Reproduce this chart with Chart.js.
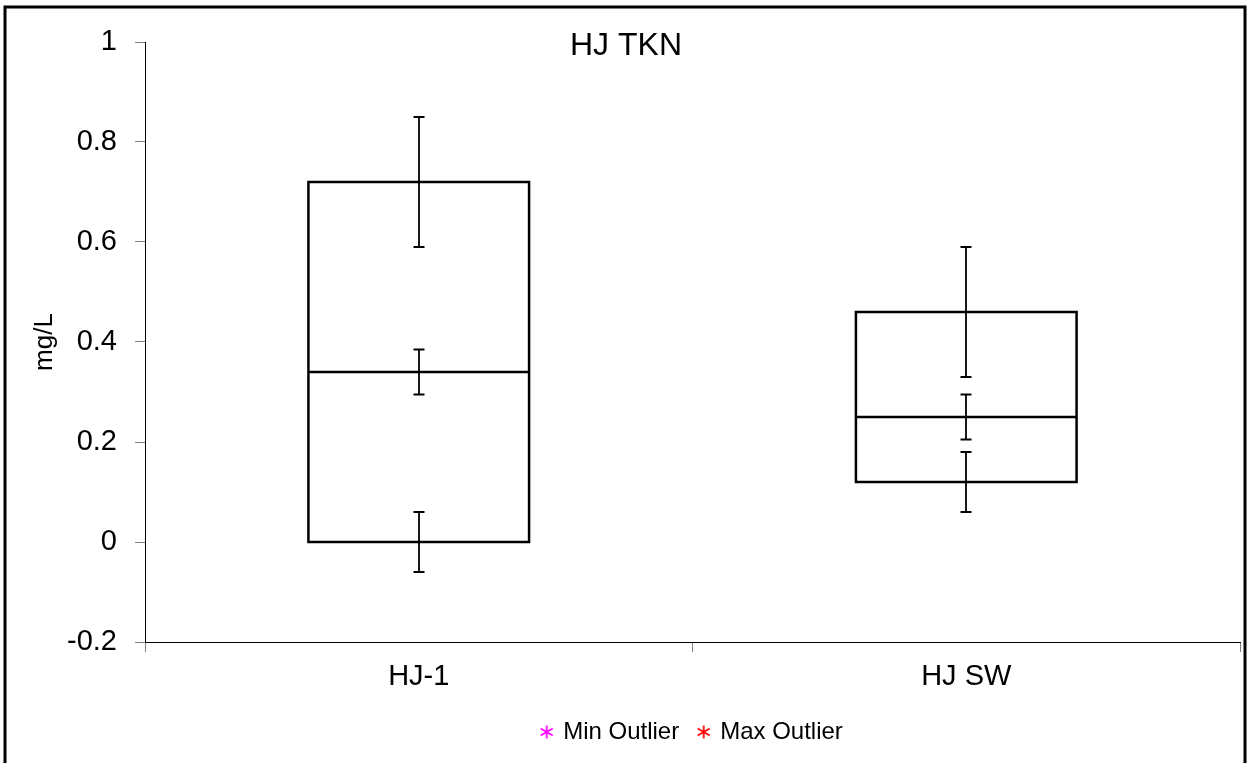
<!DOCTYPE html>
<html>
<head>
<meta charset="utf-8">
<script src="https://cdn.jsdelivr.net/npm/chart.js@4/dist/chart.umd.min.js"></script>
<style>
  html, body { margin: 0; padding: 0; background: #fff; }
  #wrap { width: 1249px; height: 763px; }
</style>
</head>
<body>
<div id="wrap"><canvas id="chart" width="1249" height="763"></canvas></div>
<script>
// Box plot of TKN by site: quartile box, median line and error bars at each quartile
const categories = ['HJ-1', 'HJ SW'];
const q1 = [0, 0.12];
const median = [0.34, 0.25];
const q3 = [0.72, 0.46];
const q1Low = [-0.06, 0.06];
const q1High = [0.06, 0.18];
const medianLow = [0.295, 0.205];
const medianHigh = [0.385, 0.295];
const q3Low = [0.59, 0.33];
const q3High = [0.85, 0.59];
const yTicks = [-0.2, 0, 0.2, 0.4, 0.6, 0.8, 1];
const titleText = 'HJ TKN';
const yTitle = 'mg/L';
const outlierLabels = ['Min Outlier', 'Max Outlier'];
const outlierColors = ['#ff00ff', '#ff0000'];

const FONT = "'Liberation Sans', Arial, sans-serif";

function asteriskMarker(color) {
  const c = document.createElement('canvas');
  c.width = 14; c.height = 14;
  const g = c.getContext('2d');
  g.strokeStyle = color;
  g.lineWidth = 1.7;
  g.beginPath();
  g.moveTo(7, 0.5); g.lineTo(7, 13.5);
  g.moveTo(1, 3.5); g.lineTo(13, 10.5);
  g.moveTo(13, 3.5); g.lineTo(1, 10.5);
  g.stroke();
  return c;
}

const frameAndTitle = {
  id: 'frameAndTitle',
  beforeDraw(chart) {
    const ctx = chart.ctx;
    ctx.save();
    ctx.fillStyle = '#fff';
    ctx.fillRect(0, 0, chart.width, chart.height);
    ctx.restore();
  },
  afterDraw(chart) {
    const ctx = chart.ctx;
    ctx.save();
    ctx.strokeStyle = '#000';
    ctx.lineWidth = 3;
    ctx.strokeRect(5, 7, 1240, 800);
    ctx.fillStyle = '#000';
    ctx.font = '32px ' + FONT;
    ctx.textAlign = 'center';
    ctx.textBaseline = 'middle';
    ctx.fillText(titleText, 626, 46);
    ctx.restore();
  }
};

// Box outline, median line and the three error bars, placed from the bar elements and the y scale
const boxMarks = {
  id: 'boxMarks',
  afterDatasetsDraw(chart) {
    const ctx = chart.ctx;
    const y = chart.scales.y;
    const meta = chart.getDatasetMeta(0);
    ctx.save();
    ctx.strokeStyle = '#000';
    meta.data.forEach((bar, i) => {
      const half = bar.width / 2;
      const left = bar.x - half, right = bar.x + half;
      const top = y.getPixelForValue(q3[i]);
      const bottom = y.getPixelForValue(q1[i]);
      ctx.lineWidth = 2.5;
      ctx.strokeRect(left, top, right - left, bottom - top);
      const ym = y.getPixelForValue(median[i]);
      ctx.beginPath();
      ctx.moveTo(left, ym);
      ctx.lineTo(right, ym);
      ctx.stroke();
      ctx.lineWidth = 1.8;
      [[q1Low, q1High], [medianLow, medianHigh], [q3Low, q3High]].forEach(([lo, hi]) => {
        const yl = y.getPixelForValue(lo[i]);
        const yh = y.getPixelForValue(hi[i]);
        const x = Math.round(bar.x);
        ctx.beginPath();
        ctx.moveTo(x, yl); ctx.lineTo(x, yh);
        ctx.moveTo(x - 5.5, yl); ctx.lineTo(x + 5.5, yl);
        ctx.moveTo(x - 5.5, yh); ctx.lineTo(x + 5.5, yh);
        ctx.stroke();
      });
    });
    ctx.restore();
  }
};

new Chart(document.getElementById('chart'), {
  type: 'bar',
  data: {
    labels: categories,
    datasets: [
      {
        label: 'Box',
        data: q1.map((v, i) => [v, q3[i]]),
        backgroundColor: 'rgba(0,0,0,0)',
        borderWidth: 0,
        categoryPercentage: 1,
        barPercentage: 0.403
      },
      {
        type: 'scatter',
        label: outlierLabels[0],
        data: [],
        pointStyle: asteriskMarker(outlierColors[0]),
        borderColor: outlierColors[0],
        backgroundColor: outlierColors[0]
      },
      {
        type: 'scatter',
        label: outlierLabels[1],
        data: [],
        pointStyle: asteriskMarker(outlierColors[1]),
        borderColor: outlierColors[1],
        backgroundColor: outlierColors[1]
      }
    ]
  },
  options: {
    responsive: false,
    animation: false,
    devicePixelRatio: 1,
    layout: { padding: { left: 10, right: 9, top: 42, bottom: 9 } },
    scales: {
      x: {
        type: 'category',
        offset: true,
        afterFit(s) { s.height = 58; },
        grid: { display: true, offset: true, drawOnChartArea: false, drawTicks: true, tickLength: 10, color: '#808080' },
        border: { display: true, color: '#000', width: 1 },
        ticks: { color: '#000', font: { family: FONT, size: 29 }, padding: 8, maxRotation: 0 }
      },
      y: {
        min: -0.2,
        max: 1,
        afterFit(s) { s.width = 135; },
        afterBuildTicks(s) { s.ticks = yTicks.map(v => ({ value: v })); },
        grid: { display: true, drawOnChartArea: false, drawTicks: true, tickLength: 10, color: '#808080' },
        border: { display: true, color: '#000', width: 1 },
        ticks: { color: '#000', font: { family: FONT, size: 29 }, padding: 18, callback: v => String(v) },
        title: { display: true, text: yTitle, color: '#000', font: { family: FONT, size: 26 }, padding: { top: 19, bottom: 0 } }
      }
    },
    plugins: {
      title: { display: false },
      tooltip: { enabled: false },
      legend: {
        position: 'bottom',
        fullSize: false,
        labels: {
          filter: item => item.datasetIndex > 0,
          usePointStyle: true,
          pointStyleWidth: 9,
          color: '#000',
          font: { family: FONT, size: 24 },
          padding: 20
        }
      }
    }
  },
  plugins: [frameAndTitle, boxMarks]
});
</script>
</body>
</html>
